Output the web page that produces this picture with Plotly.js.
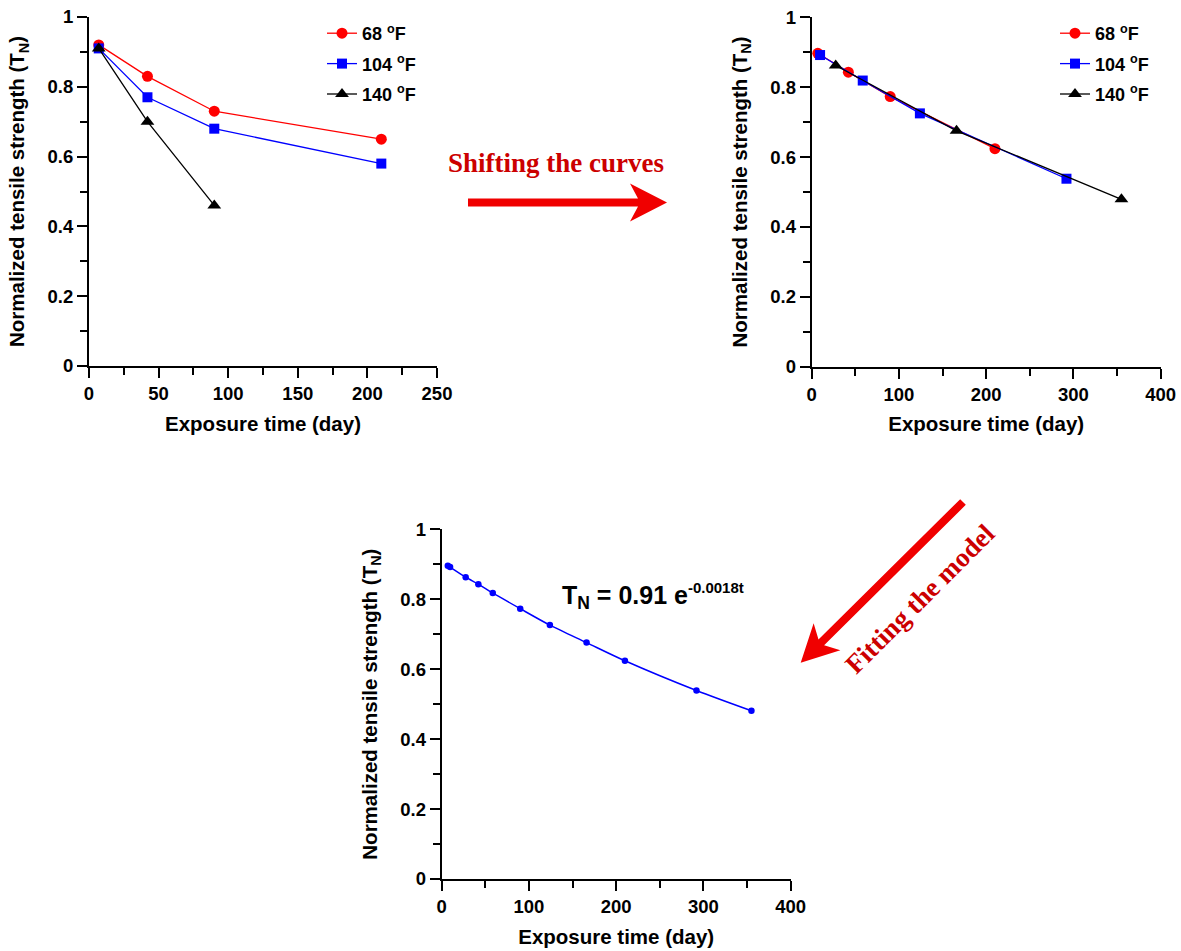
<!DOCTYPE html>
<html>
<head>
<meta charset="utf-8">
<script src="https://cdn.plot.ly/plotly-3.0.1.min.js"></script>
<style>html,body{margin:0;padding:0;background:#fff;}#chart{width:1181px;height:951px;}</style>
</head>
<body>
<div id="chart"></div>
<script>
// ---- data ----
const seriesNames = ["68 <sup>o</sup>F", "104 <sup>o</sup>F", "140 <sup>o</sup>F"];
// panel 1: measured
const days68 = [7, 42, 90, 210];
const tn68 = [0.92, 0.83, 0.73, 0.65];
const days104 = [7, 42, 90, 210];
const tn104 = [0.91, 0.77, 0.68, 0.58];
const days140 = [7, 42, 90];
const tn140 = [0.91, 0.70, 0.46];
// panel 2: shifted
const shDays68 = [7, 42, 90, 210];
const shTn68 = [0.897, 0.843, 0.773, 0.624];
const shDays104 = [9.6, 58.5, 124, 292];
const shTn104 = [0.892, 0.819, 0.725, 0.538];
const shDays140 = [27.5, 166, 355];
const shTn140 = [0.862, 0.675, 0.479];
// panel 3: combined master curve points
const fitDays = [7, 9.6, 27.5, 42, 58.5, 90, 124, 166, 210, 292, 355];
const fitTn = [0.896, 0.892, 0.863, 0.843, 0.818, 0.773, 0.726, 0.676, 0.624, 0.539, 0.481];
const xTitle = "Exposure time (day)";
const yTitle = "Normalized tensile strength (T<sub>N</sub>)";
const eqText = 'T<sub>N</sub> = 0.91 e<sup><span style="font-size:15px">-0.0018t</span></sup>';

// ---- helpers for layout placement ----
const W = 1181, H = 951;
const px = x => x / W;
const py = y => 1 - y / H;
const SANS = "Liberation Sans, Arial, sans-serif";
const SERIF = "Liberation Serif, Times New Roman, serif";

function axisX(domainPx, range, dtick, minorDtick, anchor) {
  return {
    domain: [px(domainPx[0]), px(domainPx[1])], anchor: anchor,
    range: range, tick0: 0, dtick: dtick, ticks: "outside", ticklen: 10, tickwidth: 2,
    tickcolor: "#000", showline: true, linewidth: 2, linecolor: "#000",
    showgrid: false, zeroline: false, fixedrange: true,
    minor: {dtick: minorDtick, tick0: 0, ticks: "outside", ticklen: 7, tickwidth: 2, tickcolor: "#000", showgrid: false},
    tickfont: {family: SANS, size: 18.5, color: "#000", weight: "bold"},
    title: {text: xTitle, font: {family: SANS, size: 20.5, color: "#000", weight: "bold"}, standoff: 13}
  };
}
function axisY(domainPx, anchor) {
  return {
    domain: [py(domainPx[1]), py(domainPx[0])], anchor: anchor,
    range: [0, 1], tick0: 0, dtick: 0.2, ticks: "outside", ticklen: 10, tickwidth: 2,
    tickcolor: "#000", showline: true, linewidth: 2, linecolor: "#000",
    showgrid: false, zeroline: false, fixedrange: true,
    minor: {dtick: 0.1, tick0: 0, ticks: "outside", ticklen: 7, tickwidth: 2, tickcolor: "#000", showgrid: false},
    tickfont: {family: SANS, size: 18.5, color: "#000", weight: "bold"},
    title: {text: yTitle, font: {family: SANS, size: 20.5, color: "#000", weight: "bold"}, standoff: 17}
  };
}

const RED = "#ff0000", BLUE = "#0000ff", BLACK = "#000000";
function series(x, y, name, color, symbol, size, xa, ya, leg, grp) {
  return {
    type: "scatter", mode: "lines+markers", x: x, y: y, name: name,
    xaxis: xa, yaxis: ya, legend: leg, legendgroup: grp, cliponaxis: false,
    line: {color: color, width: 1.3},
    marker: {color: color, symbol: symbol, size: size}
  };
}

const traces = [
  series(days68, tn68, seriesNames[0], RED, "circle", 11, "x", "y", "legend", "a1"),
  series(days104, tn104, seriesNames[1], BLUE, "square", 10, "x", "y", "legend", "b1"),
  series(days140, tn140, seriesNames[2], BLACK, "triangle-up", 12, "x", "y", "legend", "c1"),
  series(shDays68, shTn68, seriesNames[0], RED, "circle", 11, "x2", "y2", "legend2", "a2"),
  series(shDays104, shTn104, seriesNames[1], BLUE, "square", 10, "x2", "y2", "legend2", "b2"),
  series(shDays140, shTn140, seriesNames[2], BLACK, "triangle-up", 12, "x2", "y2", "legend2", "c2"),
  {
    type: "scatter", mode: "lines+markers", x: fitDays, y: fitTn, xaxis: "x3", yaxis: "y3",
    showlegend: false, cliponaxis: false,
    line: {color: BLUE, width: 1.5, shape: "spline", smoothing: 0.8},
    marker: {color: BLUE, size: 6.5}
  }
];

function arrowPath(tail, tip, shaftHalf, headLen, headHalf, notch) {
  const dx = tip[0] - tail[0], dy = tip[1] - tail[1];
  const L = Math.hypot(dx, dy);
  const d = [dx / L, dy / L];
  const n = [-d[1], d[0]];
  const base = [tip[0] - d[0] * headLen, tip[1] - d[1] * headLen];
  const neck = [tip[0] - d[0] * (headLen - notch), tip[1] - d[1] * (headLen - notch)];
  const pts = [
    [tail[0] + n[0] * shaftHalf, tail[1] + n[1] * shaftHalf],
    [neck[0] + n[0] * shaftHalf, neck[1] + n[1] * shaftHalf],
    [base[0] + n[0] * headHalf, base[1] + n[1] * headHalf],
    tip,
    [base[0] - n[0] * headHalf, base[1] - n[1] * headHalf],
    [neck[0] - n[0] * shaftHalf, neck[1] - n[1] * shaftHalf],
    [tail[0] - n[0] * shaftHalf, tail[1] - n[1] * shaftHalf]
  ];
  return pts.map((p, i) => (i ? "L" : "M") + px(p[0]).toFixed(5) + "," + py(p[1]).toFixed(5)).join(" ") + " Z";
}

const legendFont = {family: SANS, size: 18, color: "#000", weight: "bold"};
const layout = {
  width: W, height: H, margin: {l: 0, r: 0, t: 0, b: 0},
  paper_bgcolor: "#fff", plot_bgcolor: "#fff", showlegend: true,
  xaxis: axisX([89, 437], [0, 250], 50, 25, "y"),
  yaxis: axisY([17, 366], "x"),
  xaxis2: axisX([811.7, 1160.7], [0, 400], 100, 50, "y2"),
  yaxis2: axisY([17.3, 366.7], "x2"),
  xaxis3: axisX([441.7, 790.7], [0, 400], 100, 50, "y3"),
  yaxis3: axisY([529.3, 879], "x3"),
  legend: {
    x: px(322), y: py(15), xanchor: "left", yanchor: "top",
    bgcolor: "rgba(0,0,0,0)", tracegroupgap: 4, itemwidth: 30, font: legendFont
  },
  legend2: {
    x: px(1055), y: py(15), xanchor: "left", yanchor: "top",
    bgcolor: "rgba(0,0,0,0)", tracegroupgap: 4, itemwidth: 30, font: legendFont
  },
  annotations: [
    {xref: "paper", yref: "paper", x: px(556), y: py(163), xanchor: "center", yanchor: "middle",
     text: "Shifting the curves", showarrow: false,
     font: {family: SERIF, size: 27, color: "#cc0000", weight: "bold"}},
    {xref: "paper", yref: "paper", x: px(920), y: py(599), xanchor: "center", yanchor: "middle",
     text: "Fitting the model", showarrow: false, textangle: -45,
     font: {family: SERIF, size: 27, color: "#cc0000", weight: "bold"}},
    {xref: "paper", yref: "paper", x: px(560), y: py(596), xanchor: "left", yanchor: "middle",
     text: eqText, showarrow: false,
     font: {family: SANS, size: 25, color: "#000", weight: "bold"}}
  ],
  shapes: [
    {type: "path", xref: "paper", yref: "paper", path: arrowPath([468, 202.5], [667, 202.5], 4, 37, 19, 8),
     fillcolor: "#f00000", line: {width: 0}},
    {type: "path", xref: "paper", yref: "paper", path: arrowPath([963, 502], [800.7, 662.7], 4, 37, 19, 8),
     fillcolor: "#f00000", line: {width: 0}}
  ]
};

Plotly.newPlot("chart", traces, layout, {displayModeBar: false, staticPlot: true});
</script>
</body>
</html>
